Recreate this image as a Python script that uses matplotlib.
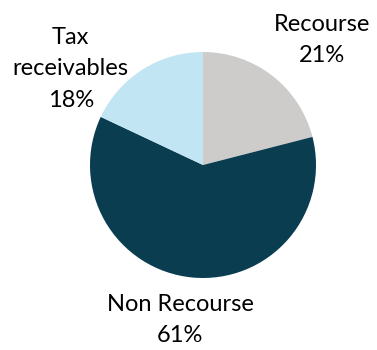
import matplotlib
matplotlib.use("Agg")
import matplotlib.pyplot as plt

labels = ["Recourse", "Non Recourse", "Tax\nreceivables"]
shares = [21, 61, 18]
colors = ["#CDCCCB", "#0A3D50", "#C2E5F4"]
# label centres in axes data units (pie radius = 1)
label_pos = [(1.053, 1.106), (-0.20, -1.37), (-1.17, 0.85)]

plt.rcParams["font.family"] = ["Lato", "DejaVu Sans"]

fig = plt.figure(figsize=(3.77, 3.5), dpi=100)
ax = fig.add_axes([0, 0, 1, 1])
ax.pie(shares, colors=colors, startangle=90, counterclock=False,
       radius=1, wedgeprops=dict(linewidth=0))
for lab, val, (x, y) in zip(labels, shares, label_pos):
    ax.text(x, y, f"{lab}\n{val}%", ha="center", va="center",
            fontsize=17, linespacing=1.6, color="black")
ax.set_xlim(-203 / 113, (377 - 203) / 113)
ax.set_ylim(-185 / 113, 165 / 113)
ax.set_aspect("equal")
ax.axis("off")
fig.savefig("out.png", dpi=100)
